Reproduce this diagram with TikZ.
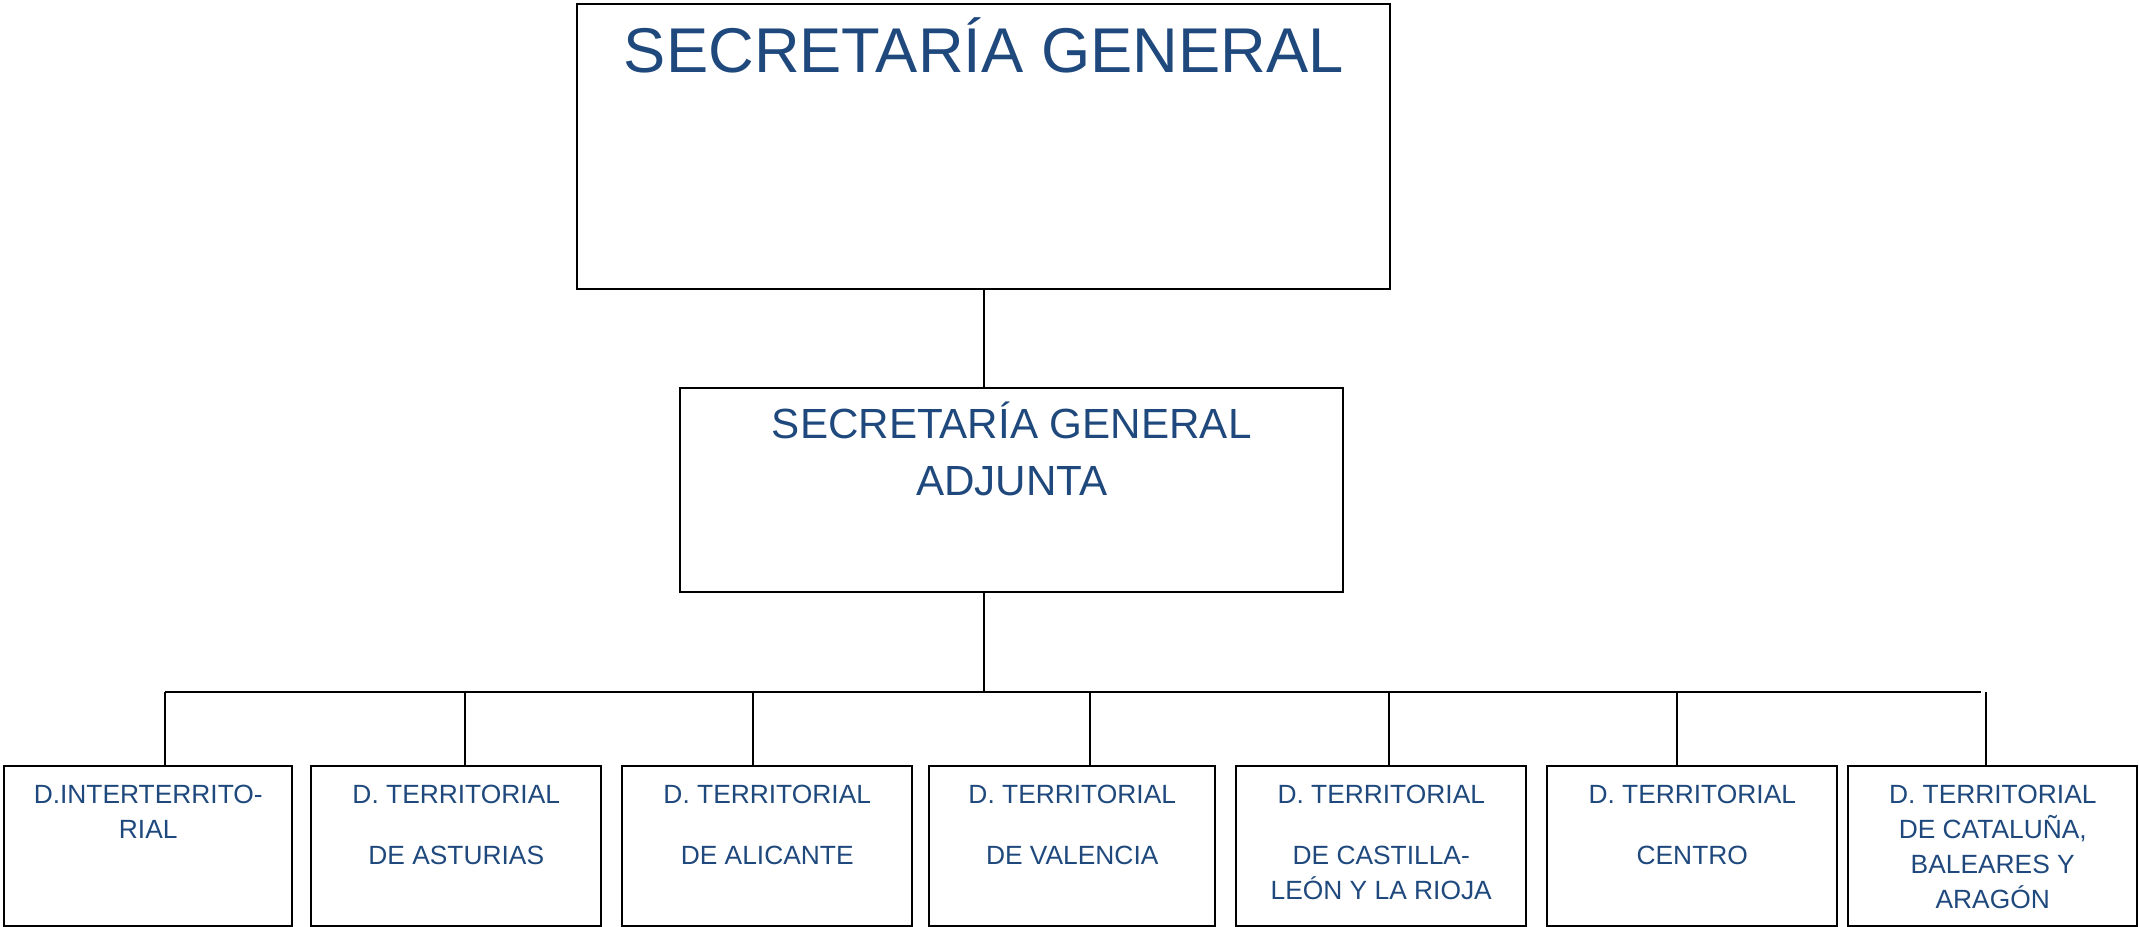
\documentclass[tikz,border=0pt]{standalone}
\usepackage{fontspec}
\setmainfont{Liberation Sans}
\usetikzlibrary{positioning,calc}
\definecolor{orgblue}{RGB}{31,73,125}
\newcommand{\boxtext}[4]{\parbox[c][#2][t]{#1}{\centering\rule{0pt}{#3}#4}}
\tikzset{
  orgbox/.style={draw,line width=0.7pt,inner sep=0pt,anchor=north west,text=orgblue},
  unitbox/.style={orgbox,font=\fontsize{7.5}{10}\selectfont},
  link/.style={line width=0.6pt}
}

\begin{document}
\begin{tikzpicture}
  \useasboundingbox (0,0) rectangle (21.39,-9.27);
  % upper levels
  \node[orgbox,font=\fontsize{18}{21.6}\selectfont] (sg) at (5.76,-0.03)
    {\boxtext{8.13cm}{2.85cm}{0.68cm}{SECRETARÍA GENERAL}};
  \node[orgbox,font=\fontsize{12}{16.2}\selectfont] (sga) at (6.79,-3.87)
    {\boxtext{6.63cm}{2.04cm}{0.50cm}{SECRETARÍA GENERAL\\ADJUNTA}};
  % delegations
  \node[unitbox] (dint) at (0.03,-7.65) {\boxtext{2.88cm}{1.6cm}{0.37cm}{D.INTERTERRITO-\\RIAL}};
  \node[unitbox] (dast) at (3.10,-7.65) {\boxtext{2.90cm}{1.6cm}{0.37cm}{D. TERRITORIAL\\[0.26cm]DE ASTURIAS}};
  \node[unitbox] (dali) at (6.21,-7.65) {\boxtext{2.90cm}{1.6cm}{0.37cm}{D. TERRITORIAL\\[0.26cm]DE ALICANTE}};
  \node[unitbox] (dval) at (9.28,-7.65) {\boxtext{2.86cm}{1.6cm}{0.37cm}{D. TERRITORIAL\\[0.26cm]DE VALENCIA}};
  \node[unitbox] (dcas) at (12.35,-7.65) {\boxtext{2.90cm}{1.6cm}{0.37cm}{D. TERRITORIAL\\[0.26cm]DE CASTILLA-\\LEÓN Y LA RIOJA}};
  \node[unitbox] (dcen) at (15.46,-7.65) {\boxtext{2.90cm}{1.6cm}{0.37cm}{D. TERRITORIAL\\[0.26cm]CENTRO}};
  \node[unitbox] (dcat) at (18.47,-7.65) {\boxtext{2.89cm}{1.6cm}{0.37cm}{D. TERRITORIAL\\DE CATALUÑA,\\BALEARES Y\\ARAGÓN}};
  % connectors
  \coordinate (bl) at (1.65,-6.92);
  \coordinate (br) at (19.81,-6.92);
  \draw[link] (sg.south) -- (sg.south |- sga.north);
  \draw[link] (sga.south -| sg.south) -- (sg.south |- bl);
  \draw[link] (bl) -- (br);
  \draw[link] (bl) -- (bl |- dint.north);
  \foreach \x/\n in {4.65/dast,7.53/dali,10.90/dval,13.89/dcas,16.77/dcen,19.86/dcat}
    \draw[link] (\x,-6.92) -- (\x,-6.92 |- \n.north);
\end{tikzpicture}
\end{document}
